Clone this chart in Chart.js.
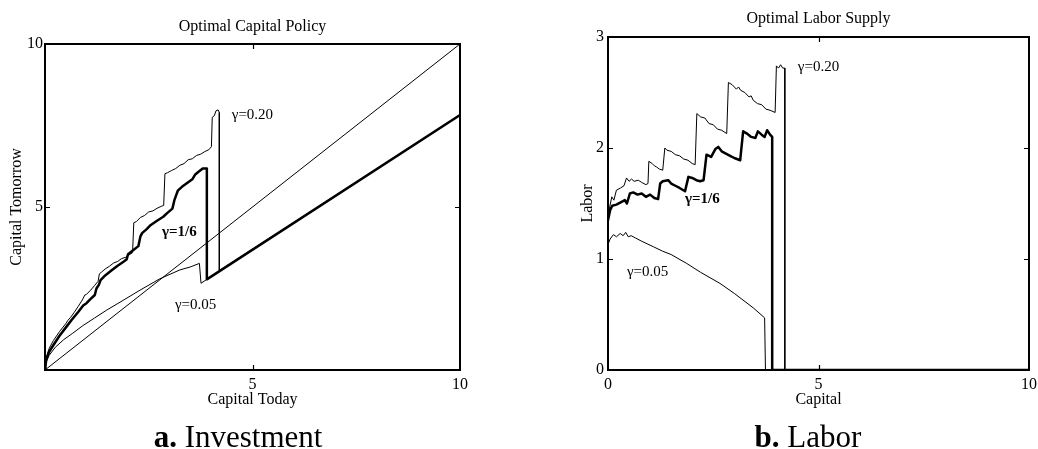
<!DOCTYPE html>
<html>
<head>
<meta charset="utf-8">
<script src="https://cdn.jsdelivr.net/npm/chart.js@4.4.1/dist/chart.umd.min.js"></script>
<style>
  html, body { margin: 0; padding: 0; background: #fff; }
  body { width: 1038px; height: 449px; position: relative; overflow: hidden;
         font-family: "Liberation Serif", "Times New Roman", serif; color: #000; }
  canvas { position: absolute; top: 0; }
  #capChart { left: 0; }
  #labChart { left: 519px; }
  .caption { position: absolute; top: 421px; font-size: 31px; line-height: 31px;
             white-space: nowrap; transform: translateX(-50%); }
  .caption b { font-weight: bold; }
</style>
</head>
<body>
<canvas id="capChart" width="519" height="449"></canvas>
<canvas id="labChart" width="519" height="449"></canvas>
<div class="caption" style="left:238px"><b>a.</b> Investment</div>
<div class="caption" style="left:808px"><b>b.</b> Labor</div>

<script>
// ---- Capital policy: capital tomorrow against capital today ----
const capDiagX = [0, 10];
const capDiagY = [0, 10];

const capX20 = [0, 0.03, 0.1, 0.2, 0.35, 0.5, 0.55, 0.62, 0.7, 0.8, 0.9, 0.96, 1.0, 1.1, 1.2, 1.28, 1.31, 1.36, 1.45, 1.55, 1.65, 1.75, 1.85, 1.95, 2.05, 2.11, 2.14, 2.2, 2.3, 2.4, 2.5, 2.6, 2.7, 2.8, 2.86, 2.89, 2.95, 3.05, 3.15, 3.25, 3.35, 3.45, 3.55, 3.65, 3.75, 3.85, 3.95, 4.01, 4.03, 4.08, 4.12, 4.17, 4.2, 4.2, 10];
const capY20 = [0, 0.38, 0.66, 0.9, 1.18, 1.42, 1.52, 1.62, 1.76, 1.95, 2.15, 2.3, 2.32, 2.45, 2.6, 2.72, 2.95, 3.0, 3.1, 3.18, 3.28, 3.33, 3.42, 3.46, 3.55, 3.6, 4.52, 4.55, 4.68, 4.74, 4.85, 4.88, 4.96, 5.02, 5.05, 6.02, 6.05, 6.12, 6.18, 6.28, 6.33, 6.45, 6.48, 6.58, 6.62, 6.7, 6.76, 6.85, 7.75, 7.8, 7.95, 7.98, 7.9, 3.05, 7.82];

const capX16 = [0, 0.03, 0.1, 0.2, 0.35, 0.5, 0.65, 0.8, 0.92, 1.0, 1.1, 1.2, 1.24, 1.3, 1.34, 1.45, 1.6, 1.75, 1.9, 1.97, 2.0, 2.1, 2.25, 2.3, 2.34, 2.45, 2.55, 2.7, 2.85, 2.95, 3.07, 3.12, 3.2, 3.3, 3.45, 3.55, 3.62, 3.7, 3.8, 3.9, 3.9, 10];
const capY16 = [0, 0.32, 0.56, 0.76, 1.05, 1.3, 1.55, 1.78, 1.98, 2.05, 2.18, 2.3, 2.5, 2.62, 2.76, 2.9, 3.05, 3.2, 3.33, 3.4, 3.55, 3.65, 3.8, 4.1, 4.2, 4.32, 4.45, 4.58, 4.7, 4.82, 4.95, 5.22, 5.5, 5.62, 5.76, 5.85, 6.0, 6.08, 6.18, 6.18, 2.78, 7.82];

const capX05 = [0, 0.02, 0.1, 0.25, 0.45, 0.67, 0.9, 1.2, 1.49, 1.9, 2.29, 2.77, 3.25, 3.5, 3.72, 3.76, 3.9, 10];
const capY05 = [0, 0.22, 0.45, 0.7, 0.93, 1.13, 1.35, 1.6, 1.84, 2.15, 2.45, 2.8, 3.07, 3.16, 3.27, 2.66, 2.78, 7.82];

const capTicks = [5, 10];

// ---- Labor supply against capital ----
const labX20 = [0, 0.03, 0.09, 0.14, 0.2, 0.3, 0.38, 0.44, 0.5, 0.56, 0.62, 0.72, 0.8, 0.9, 0.95, 0.97, 1.05, 1.1, 1.15, 1.22, 1.3, 1.35, 1.4, 1.5, 1.6, 1.7, 1.8, 1.9, 2.0, 2.07, 2.11, 2.2, 2.3, 2.4, 2.5, 2.6, 2.7, 2.82, 2.86, 2.95, 3.05, 3.1, 3.15, 3.25, 3.35, 3.4, 3.45, 3.55, 3.65, 3.75, 3.85, 3.97, 4.0, 4.05, 4.1, 4.15, 4.2, 4.2, 10];
const labY20 = [1.35, 1.45, 1.56, 1.53, 1.62, 1.64, 1.66, 1.73, 1.70, 1.72, 1.70, 1.71, 1.69, 1.67, 1.68, 1.88, 1.86, 1.84, 1.83, 1.81, 1.80, 2.0, 1.98, 1.97, 1.94, 1.93, 1.90, 1.89, 1.86, 1.85, 2.31, 2.28, 2.27, 2.22, 2.21, 2.17, 2.16, 2.13, 2.59, 2.57, 2.53, 2.55, 2.52, 2.5, 2.46, 2.47, 2.43, 2.40, 2.39, 2.35, 2.34, 2.32, 2.74, 2.72, 2.75, 2.72, 2.72, 0, 0];

const labX16 = [0, 0.05, 0.1, 0.2, 0.3, 0.4, 0.45, 0.52, 0.6, 0.7, 0.8, 0.9, 1.0, 1.1, 1.19, 1.24, 1.3, 1.43, 1.5, 1.6, 1.7, 1.83, 1.91, 2.0, 2.1, 2.19, 2.27, 2.34, 2.45, 2.55, 2.62, 2.7, 2.8, 2.9, 3.0, 3.14, 3.21, 3.3, 3.4, 3.5, 3.56, 3.65, 3.72, 3.78, 3.85, 3.9, 3.9, 10];
const labY16 = [1.35, 1.44, 1.48, 1.49, 1.51, 1.53, 1.50, 1.59, 1.60, 1.58, 1.59, 1.56, 1.58, 1.55, 1.54, 1.68, 1.70, 1.71, 1.68, 1.66, 1.64, 1.61, 1.74, 1.73, 1.71, 1.70, 1.71, 1.94, 1.92, 1.99, 2.01, 1.97, 1.95, 1.93, 1.91, 1.89, 2.15, 2.13, 2.10, 2.09, 2.15, 2.12, 2.10, 2.16, 2.12, 2.10, 0, 0];

const labX05 = [0, 0.05, 0.13, 0.2, 0.29, 0.36, 0.42, 0.48, 0.55, 0.65, 0.8, 1.08, 1.3, 1.5, 1.87, 2.2, 2.66, 3.0, 3.45, 3.72, 3.74, 10];
const labY05 = [1.13, 1.18, 1.22, 1.20, 1.23, 1.21, 1.24, 1.20, 1.21, 1.19, 1.16, 1.11, 1.07, 1.04, 0.96, 0.88, 0.78, 0.69, 0.56, 0.47, 0, 0];

const labTicksX = [0, 5, 10];
const labTicksY = [0, 1, 2, 3];

// ---- curve annotations (text, anchor in data units) ----
const capNotes = [
  { text: 'γ=0.20', x: 4.5, y: 7.82, bold: false },
  { text: 'γ=1/6', x: 2.82, y: 4.23, bold: true },
  { text: 'γ=0.05', x: 3.13, y: 2.0, bold: false }
];
const labNotes = [
  { text: 'γ=0.20', x: 4.51, y: 2.73, bold: false },
  { text: 'γ=1/6', x: 1.83, y: 1.54, bold: true },
  { text: 'γ=0.05', x: 0.45, y: 0.88, bold: false }
];

const SERIF = '"Liberation Serif", "Times New Roman", serif';

function points(xs, ys) {
  return xs.map((x, i) => ({ x: x, y: ys[i] }));
}

// Small inward tick marks on all four sides of the frame
const innerTicks = {
  id: 'innerTicks',
  afterDatasetsDraw(chart) {
    const { ctx, chartArea: a, scales } = chart;
    const len = 5;
    ctx.save();
    ctx.strokeStyle = '#000';
    ctx.lineWidth = 1.2;
    ctx.beginPath();
    scales.x.ticks.forEach(t => {
      const p = Math.round(scales.x.getPixelForValue(t.value)) + 0.5;
      if (p > a.left + 2 && p < a.right - 2) {
        ctx.moveTo(p, a.bottom); ctx.lineTo(p, a.bottom - len);
        ctx.moveTo(p, a.top); ctx.lineTo(p, a.top + len);
      }
    });
    scales.y.ticks.forEach(t => {
      const p = Math.round(scales.y.getPixelForValue(t.value)) + 0.5;
      if (p > a.top + 2 && p < a.bottom - 2) {
        ctx.moveTo(a.left, p); ctx.lineTo(a.left + len, p);
        ctx.moveTo(a.right, p); ctx.lineTo(a.right - len, p);
      }
    });
    ctx.stroke();
    ctx.restore();
  }
};

// Curve labels placed in data coordinates
const curveNotes = {
  id: 'curveNotes',
  afterDatasetsDraw(chart, args, opts) {
    const { ctx, scales } = chart;
    ctx.save();
    ctx.fillStyle = '#000';
    ctx.textAlign = 'left';
    ctx.textBaseline = 'middle';
    (opts.items || []).forEach(n => {
      ctx.font = (n.bold ? 'bold ' : '') + '15px ' + SERIF;
      ctx.fillText(n.text, scales.x.getPixelForValue(n.x), scales.y.getPixelForValue(n.y));
    });
    ctx.restore();
  }
};

function makeChart(id, c) {
  const font = { family: SERIF, size: 16 };
  const border = { display: true, color: '#000', width: 2 };
  const noGrid = { display: false, drawTicks: false };
  return new Chart(document.getElementById(id), {
    type: 'line',
    data: {
      datasets: c.series.map(s => ({
        data: points(s.x, s.y),
        borderColor: '#000',
        borderWidth: s.w,
        pointRadius: 0,
        tension: 0,
        fill: false,
        borderJoinStyle: 'round',
        borderCapStyle: 'round'
      }))
    },
    options: {
      responsive: false,
      animation: false,
      devicePixelRatio: 1,
      layout: { padding: 0 },
      plugins: {
        legend: { display: false },
        tooltip: { enabled: false },
        title: { display: false },
        curveNotes: { items: c.notes }
      },
      scales: {
        x: {
          type: 'linear', position: 'bottom', min: c.xMin, max: c.xMax,
          afterBuildTicks: s => { s.ticks = c.xTicks.map(v => ({ value: v })); },
          afterFit: s => { s.height = c.bottomH; s.paddingLeft = 0; s.paddingRight = 0; },
          grid: noGrid, border: border,
          ticks: { color: '#000', font: font, padding: 5, maxRotation: 0, autoSkip: false },
          title: { display: true, text: c.xTitle, color: '#000', font: font, padding: { top: 0, bottom: 40 } }
        },
        xTop: {
          type: 'linear', position: 'top', min: c.xMin, max: c.xMax,
          afterFit: s => { s.height = c.topH; s.paddingLeft = 0; s.paddingRight = 0; },
          grid: noGrid, border: border,
          ticks: { display: false },
          title: { display: true, text: c.title, color: '#000', font: font, padding: { top: c.titlePad, bottom: 0 } }
        },
        y: {
          type: 'linear', position: 'left', min: c.yMin, max: c.yMax,
          afterBuildTicks: s => { s.ticks = c.yTicks.map(v => ({ value: v })); },
          afterFit: s => { s.width = c.leftW; s.paddingTop = 0; s.paddingBottom = 0; },
          grid: noGrid, border: border,
          ticks: { color: '#000', font: font, padding: c.yTickPad, autoSkip: false },
          title: { display: true, text: c.yTitle, color: '#000', font: font, padding: { top: c.yTitlePad, bottom: 0 } }
        },
        yR: {
          type: 'linear', position: 'right', min: c.yMin, max: c.yMax,
          afterFit: s => { s.width = c.rightW; s.paddingTop = 0; s.paddingBottom = 0; },
          grid: noGrid, border: border,
          ticks: { display: false }
        }
      }
    },
    plugins: [innerTicks, curveNotes]
  });
}

makeChart('capChart', {
  series: [
    { x: capDiagX, y: capDiagY, w: 1 },
    { x: capX05, y: capY05, w: 1 },
    { x: capX20, y: capY20, w: 1 },
    { x: capX16, y: capY16, w: 2.5 }
  ],
  notes: capNotes,
  xMin: 0, xMax: 10, yMin: 0, yMax: 10,
  xTicks: capTicks, yTicks: capTicks,
  xTitle: 'Capital Today', yTitle: 'Capital Tomorrow', title: 'Optimal Capital Policy',
  leftW: 45, rightW: 59, topH: 44, bottomH: 79,
  titlePad: 17.4, yTitlePad: 7.4, yTickPad: 2
});

makeChart('labChart', {
  series: [
    { x: labX05, y: labY05, w: 1 },
    { x: labX20, y: labY20, w: 1 },
    { x: labX16, y: labY16, w: 2.5 }
  ],
  notes: labNotes,
  xMin: 0, xMax: 10, yMin: 0, yMax: 3,
  xTicks: labTicksX, yTicks: labTicksY,
  xTitle: 'Capital', yTitle: 'Labor', title: 'Optimal Labor Supply',
  leftW: 89, rightW: 9, topH: 37, bottomH: 79,
  titlePad: 9.4, yTitlePad: 58.9, yTickPad: 4
});
</script>
</body>
</html>
